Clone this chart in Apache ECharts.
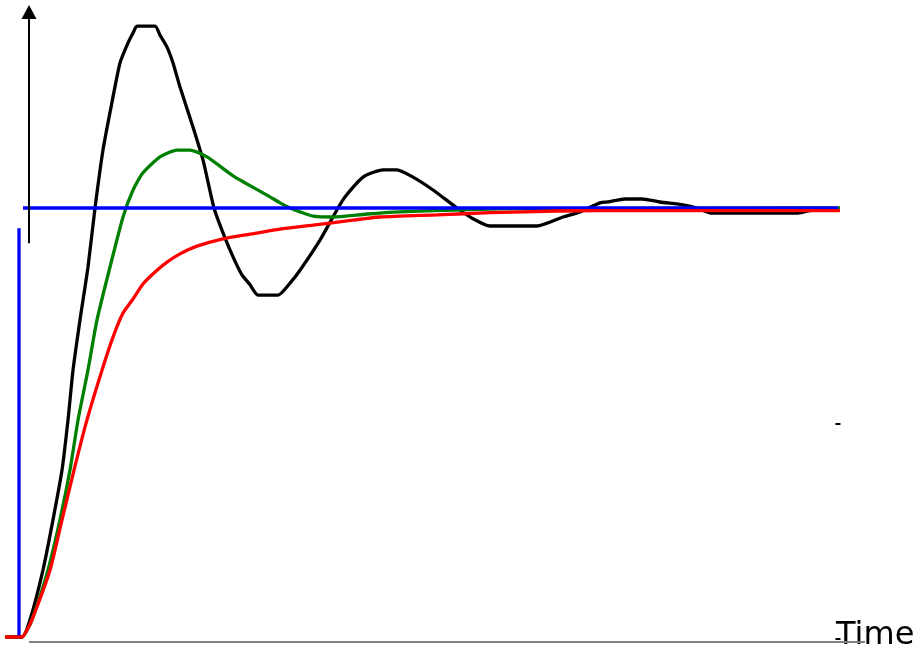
<!DOCTYPE html>
<html>
<head>
<meta charset="utf-8">
<script src="https://cdn.jsdelivr.net/npm/echarts@6/dist/echarts.min.js"></script>
<style>
html,body{margin:0;padding:0;background:#fff;}
#chart{width:914px;height:652px;}
</style>
</head>
<body>
<div id="chart"></div>
<script>
// Response of a closed loop to a unit step (setpoint = 1), time in arbitrary units
const blackTime = [-0.171,0.037,0.134,0.292,0.414,0.524,0.597,0.658,0.743,0.840,0.926,1.023,1.121,1.230,1.328,1.389,1.437,1.657,1.717,1.803,1.876,1.961,2.119,2.241,2.375,2.485,2.607,2.716,2.814,2.911,3.155,3.301,3.423,3.666,3.946,4.190,4.434,4.604,4.799,5.043,5.335,5.530,5.737,6.309,6.626,6.833,7.077,7.174,7.381,7.588,7.808,8.088,8.258,8.441,9.488,9.659,10.000];
const blackValue = [0,0,0.040,0.156,0.273,0.389,0.506,0.622,0.739,0.862,1.000,1.135,1.235,1.338,1.385,1.408,1.424,1.424,1.403,1.375,1.338,1.282,1.189,1.112,1.000,0.942,0.886,0.844,0.821,0.797,0.797,0.825,0.855,0.925,1.019,1.072,1.089,1.089,1.072,1.042,1.000,0.975,0.958,0.958,0.979,0.991,1.012,1.014,1.021,1.021,1.014,1.007,1.000,0.988,0.988,0.995,0.998];

const greenTime = [-0.171,0.037,0.085,0.158,0.353,0.499,0.621,0.719,0.840,0.950,1.108,1.267,1.389,1.510,1.717,1.924,2.083,2.290,2.607,3.021,3.179,3.301,3.423,3.581,3.825,4.239,4.641,5.286,5.859,10.000];
const greenValue = [0,0,0.012,0.040,0.156,0.273,0.389,0.506,0.622,0.739,0.862,0.979,1.042,1.082,1.119,1.135,1.135,1.119,1.075,1.030,1.012,1.000,0.991,0.981,0.979,0.986,0.991,0.995,0.998,1.000];

const redTime = [-0.171,0.037,0.085,0.158,0.378,0.524,0.670,0.828,1.011,1.145,1.267,1.389,1.510,1.657,1.803,1.961,2.168,2.485,2.814,3.179,3.581,3.995,4.397,5.091,5.737,6.553,7.077,10.000];
const redValue = [0,0,0.012,0.040,0.156,0.273,0.389,0.506,0.622,0.699,0.755,0.788,0.823,0.851,0.874,0.893,0.911,0.928,0.939,0.951,0.960,0.970,0.979,0.984,0.989,0.993,0.994,0.994];

const stepTime = [0, 0];
const stepValue = [0, 0.953];
const setpointTime = [0.049, 9.976];
const setpointValue = [1, 1];

const xAxisName = 'Time';

function pairs(t, v){ return t.map((x,i)=>[x, v[i]]); }

const chart = echarts.init(document.getElementById('chart'), null, {renderer:'canvas'});
chart.setOption({
  animation:false,
  grid:{left:0,right:0,top:0,bottom:0},
  xAxis:{type:'value',min:-0.23142,max:10.90134,show:false},
  yAxis:{type:'value',min:-0.03497,max:1.48485,show:false},
  graphic:[{
    type:'text',left:836,top:620,
    style:{text:xAxisName,font:'32px "DejaVu Sans"',fill:'#000'}
  }],
  series:[
    {type:'line',silent:true,data:[],
     markLine:{silent:true,animation:false,label:{show:false},
       data:[
         [{coord:[0.122,0.918],symbol:'none'},{coord:[0.122,1.457],symbol:'triangle',symbolSize:[15,14]}],
         [{coord:[0.122,-0.0105],symbol:'none'},{coord:[10.304,-0.0105],symbol:'none',lineStyle:{color:'#808080',width:2,type:'solid'}}],
         [{coord:[9.945,0.4965],symbol:'none'},{coord:[10.006,0.4965],symbol:'none'}],
         [{coord:[9.945,-0.004],symbol:'none'},{coord:[10.006,-0.004],symbol:'none'}]
       ],
       lineStyle:{color:'#000',width:2,type:'solid'}
     }},
    {type:'line',name:'black',data:pairs(blackTime,blackValue),showSymbol:false,smooth:0.2,lineStyle:{color:'#000',width:3.3},itemStyle:{color:'#000'}},
    {type:'line',name:'green',data:pairs(greenTime,greenValue),showSymbol:false,smooth:0.2,lineStyle:{color:'#008000',width:3.3},itemStyle:{color:'#008000'}},
    {type:'line',name:'step',data:pairs(stepTime,stepValue),showSymbol:false,lineStyle:{color:'#0000ff',width:3.3},itemStyle:{color:'#0000ff'}},
    {type:'line',name:'setpoint',data:pairs(setpointTime,setpointValue),showSymbol:false,lineStyle:{color:'#0000ff',width:3.3},itemStyle:{color:'#0000ff'}},
    {type:'line',name:'red',data:pairs(redTime,redValue),showSymbol:false,smooth:0.2,lineStyle:{color:'#ff0000',width:3.3},itemStyle:{color:'#ff0000'}}
  ]
});
</script>
</body>
</html>
